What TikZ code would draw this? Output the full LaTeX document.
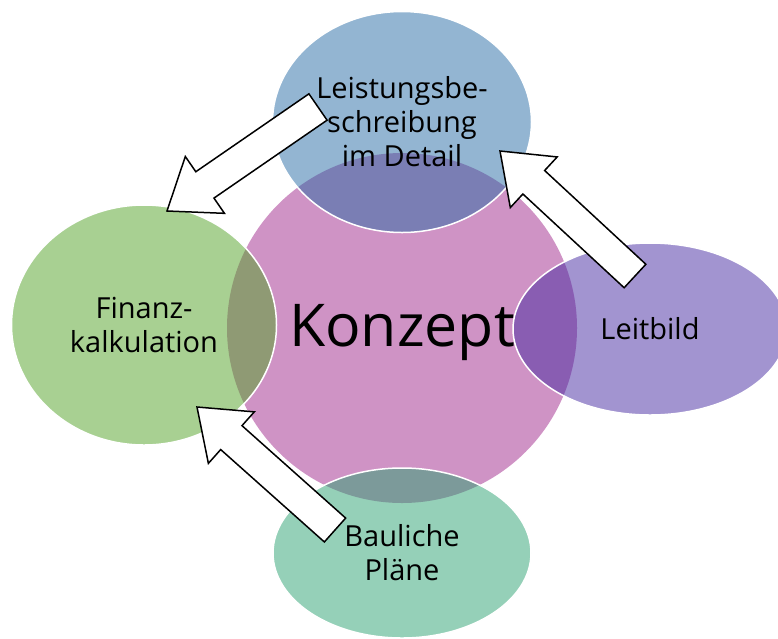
\documentclass[tikz,border=0pt]{standalone}
\usepackage{fontspec}
\setmainfont{Open Sans}
\usetikzlibrary{calc,shapes.geometric}
\definecolor{pinkC}{RGB}{207,147,197}
\definecolor{blueC}{RGB}{39,107,165}
\definecolor{greenC}{RGB}{81,161,37}
\definecolor{purpleC}{RGB}{69,41,161}
\definecolor{tealC}{RGB}{43,161,113}
\tikzset{
  sat/.style={ellipse, inner sep=0pt, draw=white, line width=1.5pt,
    fill opacity=0.5, text opacity=1, align=center,
    font=\fontsize{29}{34}\selectfont},
  blockarrow/.style={draw=black, fill=white, line width=1.5pt, line join=miter},
}
\newcommand\blkarrow[3]{%
  \coordinate (#3b) at ($(#2)!46pt!(#1)$);
  \draw[blockarrow] ($(#1)!16pt!90:(#2)$) -- ($(#3b)!16pt!90:(#2)$)
    -- ($(#3b)!34.5pt!90:(#2)$) -- (#2) -- ($(#3b)!34.5pt!-90:(#2)$)
    -- ($(#3b)!16pt!-90:(#2)$) -- ($(#1)!16pt!-90:(#2)$) -- cycle;}
\begin{document}
\begin{tikzpicture}[x=1pt,y=-1pt]
\useasboundingbox (0,0) rectangle (778,638);
\clip (0,0) rectangle (778,638);
\node[circle, fill=pinkC, minimum size=350pt, inner sep=0pt,
  font=\fontsize{59}{64}\selectfont] (konzept) at (402,328)
  {\raisebox{-5pt}[\height][\depth]{Konzept}};
\node[sat, fill=blueC, minimum width=259pt, minimum height=221pt] (leist) at (402,122)
  {Leistungsbe-\\schreibung\\im Detail};
\node[sat, fill=greenC, minimum width=265pt, minimum height=240pt] (finanz) at (144,325)
  {Finanz-\\kalkulation};
\node[sat, fill=purpleC, minimum width=274pt, minimum height=172pt] (leitbild) at (650,329)
  {Leitbild};
\node[sat, fill=tealC, minimum width=258pt, minimum height=170pt] (baul) at (402,553)
  {Bauliche\\Pläne};
\coordinate (a1t) at (318,107); \coordinate (a1h) at (167,211);
\coordinate (a2t) at (635,276); \coordinate (a2h) at (500,151);
\coordinate (a3t) at (335,530); \coordinate (a3h) at (197,407);
\blkarrow{a1t}{a1h}{a1}
\blkarrow{a2t}{a2h}{a2}
\blkarrow{a3t}{a3h}{a3}
\end{tikzpicture}
\end{document}
